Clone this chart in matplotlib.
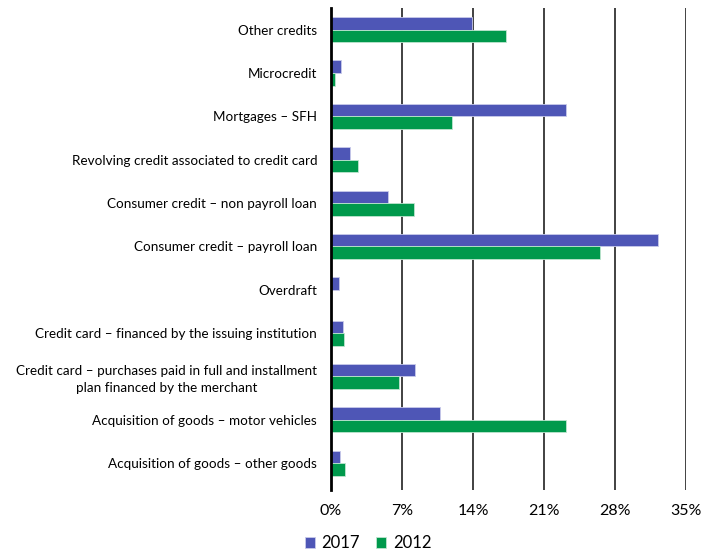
import numpy as np
import matplotlib.pyplot as plt

plt.rcParams['font.family'] = ['Lato', 'DejaVu Sans']

# categories, top to bottom
categorias = [
    'Other credits',
    'Microcredit',
    'Mortgages – SFH',
    'Revolving credit associated to credit card',
    'Consumer credit – non payroll loan',
    'Consumer credit – payroll loan',
    'Overdraft',
    'Credit card – financed by the issuing institution',
    'Credit card – purchases paid in full and installment\nplan financed by the merchant',
    'Acquisition of goods – motor vehicles',
    'Acquisition of goods – other goods',
]
v2017 = [13.9, 1.0, 23.2, 1.9, 5.6, 32.2, 0.8, 1.2, 8.3, 10.7, 0.9]
v2012 = [17.2, 0.4, 11.9, 2.7, 8.2, 26.5, 0.0, 1.3, 6.7, 23.2, 1.4]
ticks = [0, 7, 14, 21, 28, 35]

azul = '#4E56B6'
verde = '#00994C'

fig = plt.figure(figsize=(7.03, 5.54), dpi=100)
ax = fig.add_axes([0.471, 0.1155, 0.505, 0.87])

y = np.arange(len(categorias))
h = 0.29
ax.barh(y - h / 2, v2017, height=h, color=azul, edgecolor='#C8CAEA', linewidth=0.6, label='2017', zorder=3)
ax.barh(y + h / 2, v2012, height=h, color=verde, edgecolor='#BFE5D0', linewidth=0.6, label='2012', zorder=3)

ax.set_xlim(0, 35)
ax.set_ylim(10.62, -0.5)
ax.set_xticks(ticks)
ax.set_xticklabels([f'{t}%' for t in ticks], fontsize=11.5)
ax.set_yticks(y)
ax.set_yticklabels(categorias, fontsize=9.7, multialignment='center', linespacing=1.45)
ax.tick_params(axis='y', length=0, pad=10)
ax.tick_params(axis='x', length=0, pad=10)

for t in ticks[1:]:
    ax.axvline(t, color='#333333', linewidth=1.3, zorder=1)
for s in ['top', 'right', 'bottom']:
    ax.spines[s].set_visible(False)
ax.spines['left'].set_linewidth(2)
ax.spines['left'].set_color('black')
ax.spines['left'].set_zorder(4)

fig.legend(loc='lower left', bbox_to_anchor=(0.412, -0.022), ncol=2, frameon=False,
           fontsize=12, handlelength=0.6, handleheight=0.6, handletextpad=0.4, columnspacing=1.0)

fig.savefig('out.png', dpi=100)
